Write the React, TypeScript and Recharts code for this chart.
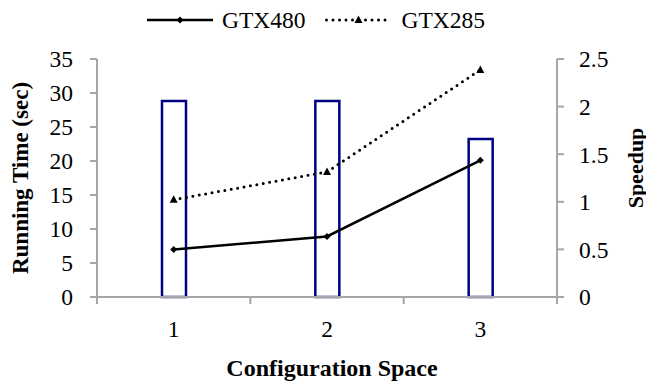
import React from 'react';
import { ComposedChart, Bar, Line, XAxis, YAxis, Legend, Label } from 'recharts';

const configs = [1, 2, 3];
const gtx480 = [7.0, 8.9, 20.1];
const gtx285 = [14.3, 18.4, 33.4];
const speedup = [2.06, 2.06, 1.66];
const leftTicks = [0, 5, 10, 15, 20, 25, 30, 35];
const rightTicks = [0, 0.5, 1, 1.5, 2, 2.5];
const xTicks = [0.5, 1, 1.5, 2, 2.5, 3, 3.5];

const data = configs.map((c, i) => ({ config: c, gtx480: gtx480[i], gtx285: gtx285[i], speedup: speedup[i] }));

const FONT = '"Liberation Serif", "Times New Roman", serif';
const AXIS = '#a6a6a6';
const TICK_FS = 23.5;

const XTick = (props: any) => {
  const { x, y, payload } = props;
  const v = payload.value;
  if (Number.isInteger(v)) {
    return (
      <text x={x} y={y + 23} dy="0.71em" textAnchor="middle" fontFamily={FONT} fontSize={TICK_FS} fill="#000">
        {String(v)}
      </text>
    );
  }
  return <line x1={x} y1={y} x2={x} y2={y + 7} stroke={AXIS} strokeWidth={2} />;
};

const Diamond = (props: any) => {
  const { cx, cy } = props;
  if (cx == null || cy == null) return null;
  return <polygon points={`${cx},${cy - 3.5} ${cx + 3.5},${cy} ${cx},${cy + 3.5} ${cx - 3.5},${cy}`} fill="#000" />;
};

const Triangle = (props: any) => {
  const { cx, cy } = props;
  if (cx == null || cy == null) return null;
  return <polygon points={`${cx},${cy - 4.5} ${cx + 4},${cy + 3} ${cx - 4},${cy + 3}`} fill="#000" />;
};

const LegendContent = () => (
  <div style={{ display: 'flex', alignItems: 'center', fontFamily: FONT, fontSize: 23.5, color: '#000', lineHeight: '26px' }}>
    <svg width={66} height={20}>
      <line x1={0} y1={10} x2={66} y2={10} stroke="#000" strokeWidth={2.5} />
      <polygon points="33,6.5 36.5,10 33,13.5 29.5,10" fill="#000" />
    </svg>
    <span style={{ marginLeft: 9, marginRight: 19 }}>GTX480</span>
    <svg width={67} height={20}>
      <line x1={1.5} y1={10} x2={66} y2={10} stroke="#000" strokeWidth={3} strokeDasharray="0 6.5" strokeLinecap="round" />
      <polygon points="33.5,5.5 37.5,13 29.5,13" fill="#000" />
    </svg>
    <span style={{ marginLeft: 10 }}>GTX285</span>
  </div>
);

const YTitle = (props: any) => {
  const { viewBox, value, cxPos, shift = 0, fs = 23 } = props;
  const cy = viewBox.y + viewBox.height / 2 + shift;
  return (
    <text x={cxPos} y={cy} transform={`rotate(-90 ${cxPos} ${cy})`} textAnchor="middle" dominantBaseline="central"
      fontFamily={FONT} fontSize={fs} fontWeight="bold" fill="#000">
      {value}
    </text>
  );
};

const XTitle = (props: any) => {
  const { viewBox, value } = props;
  const cx = viewBox.x + viewBox.width / 2 + 5;
  return (
    <text x={cx} y={376} textAnchor="middle" fontFamily={FONT} fontSize={24} fontWeight="bold" fill="#000">
      {value}
    </text>
  );
};

export default function App() {
  return (
    <div style={{ position: 'absolute', left: 0, top: 0, background: '#fff' }}>
      <ComposedChart width={646} height={382} data={data} margin={{ top: 33, right: 0, bottom: 0, left: 0 }}>
        <XAxis
          dataKey="config"
          type="number"
          domain={[0.5, 3.5]}
          ticks={xTicks}
          interval={0}
          tickLine={false}
          tickSize={0}
          tickMargin={0}
          tick={<XTick />}
          height={85}
          axisLine={{ stroke: AXIS, strokeWidth: 2 }}
        >
          <Label value="Configuration Space" content={<XTitle />} />
        </XAxis>
        <YAxis
          yAxisId="left"
          domain={[0, 35]}
          ticks={leftTicks}
          interval={0}
          width={97}
          tickSize={7}
          tickMargin={17}
          axisLine={{ stroke: AXIS, strokeWidth: 2 }}
          tickLine={{ stroke: AXIS, strokeWidth: 2 }}
          tick={{ fontFamily: FONT, fontSize: TICK_FS, fill: '#000' }}
        >
          <Label value="Running Time (sec)" content={<YTitle cxPos={20} />} />
        </YAxis>
        <YAxis
          yAxisId="right"
          orientation="right"
          domain={[0, 2.5]}
          ticks={rightTicks}
          interval={0}
          width={89}
          tickSize={7}
          tickMargin={15}
          axisLine={{ stroke: AXIS, strokeWidth: 2 }}
          tickLine={{ stroke: AXIS, strokeWidth: 2 }}
          tick={{ fontFamily: FONT, fontSize: TICK_FS, fill: '#000', textAnchor: 'start' }}
        >
          <Label value="Speedup" content={<YTitle cxPos={635} shift={-10} fs={22} />} />
        </YAxis>
        <Legend verticalAlign="top" content={<LegendContent />} wrapperStyle={{ top: 7, left: 147, width: 'auto' }} />
        <Bar yAxisId="right" dataKey="speedup" barSize={24} fill="#fff" stroke="#000080" strokeWidth={2.5} isAnimationActive={false} />
        <Line yAxisId="left" dataKey="gtx480" stroke="#000" strokeWidth={2.5} dot={<Diamond />} activeDot={false} isAnimationActive={false} />
        <Line yAxisId="left" dataKey="gtx285" stroke="#000" strokeWidth={3} strokeDasharray="0 6.5" strokeLinecap="round" dot={<Triangle />} activeDot={false} isAnimationActive={false} />
      </ComposedChart>
    </div>
  );
}
